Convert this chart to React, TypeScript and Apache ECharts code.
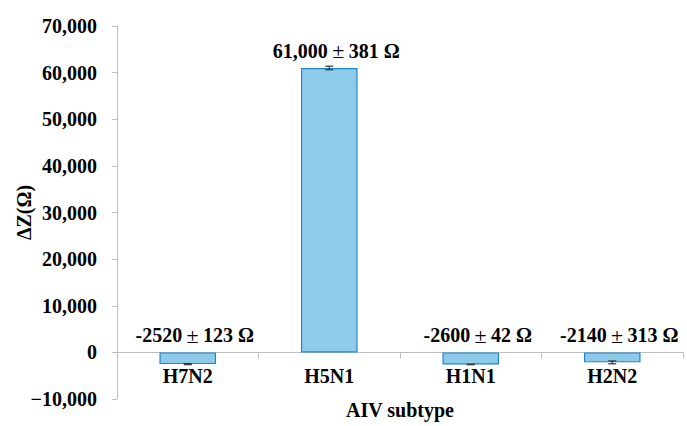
import React, { useEffect, useRef } from "react";
import * as echarts from "echarts";

const categories = ["H7N2", "H5N1", "H1N1", "H2N2"];
const values = [-2520, 61000, -2600, -2140];
const errors = [123, 381, 42, 313];
const labelMeans = ["-2520", "61,000", "-2600", "-2140"];
const labelErrors = ["123", "381", "42", "313"];
const yTicks = { min: -10000, max: 70000, interval: 10000 };

const FONT = "'Liberation Serif', 'Times New Roman', serif";

export default function App() {
  const ref = useRef<HTMLDivElement>(null);
  useEffect(() => {
    if (!ref.current) return;
    const chart = echarts.init(ref.current, undefined, { renderer: "svg" });
    const fmtNum = (v: number) => {
      const s = Math.abs(v).toLocaleString("en-US");
      return v < 0 ? "\u2212" + s : s;
    };
    const gridTop = 26;
    const gridBottom = 27;
    const plotH = 426 - gridTop - gridBottom;
    const zeroOffset = -((0 - yTicks.min) / (yTicks.max - yTicks.min)) * plotH;
    const txt = { fontFamily: FONT, fontWeight: "bold" as const, fontSize: 20, color: "#000" };
    chart.setOption({
      animation: false,
      backgroundColor: "#ffffff",
      grid: { left: 117, right: 4, top: gridTop, bottom: gridBottom, containLabel: false, outerBoundsMode: "none" },
      xAxis: {
        type: "category",
        data: categories,
        position: "bottom",
        offset: zeroOffset,
        name: "AIV subtype",
        nameLocation: "middle",
        nameGap: 48,
        nameMoveOverlap: false,
        nameTextStyle: txt,
        axisLine: { show: true, onZero: false, lineStyle: { color: "#bfbfbf", width: 1 } },
        axisTick: { show: true, length: 6, lineStyle: { color: "#bfbfbf" } },
        axisLabel: { ...txt, margin: 14 },
      },
      yAxis: {
        type: "value",
        min: yTicks.min,
        max: yTicks.max,
        interval: yTicks.interval,
        name: "ΔZ(Ω)",
        nameLocation: "middle",
        nameGap: 83,
        nameMoveOverlap: false,
        nameTextStyle: txt,
        axisLine: { show: true, lineStyle: { color: "#bfbfbf", width: 1 } },
        axisTick: { show: true, length: 5, lineStyle: { color: "#bfbfbf" } },
        splitLine: { show: false },
        axisLabel: { ...txt, margin: 20, formatter: (v: number) => fmtNum(v) },
      },
      series: [
        {
          type: "bar",
          data: values,
          barWidth: "40%",
          itemStyle: { color: "#8ecbeb", borderColor: "#1f86cc", borderWidth: 1.2 },
          label: {
            show: true,
            position: "top",
            distance: 6,
            offset: [7, 0],
            ...txt,
            rich: {
              t: txt,
              pm: { fontFamily: FONT, fontWeight: "normal", fontSize: 22, color: "#000" },
            },
            formatter: (p: any) =>
              `{t|${labelMeans[p.dataIndex]}}{pm|\u2009±\u2009}{t|${labelErrors[p.dataIndex]} Ω}`,
          },
        },
        {
          type: "custom",
          data: values.map((v, i) => [i, v, errors[i]]),
          z: 10,
          renderItem: (params: any, api: any) => {
            const i = api.value(0);
            const v = api.value(1);
            const e = api.value(2);
            const top = api.coord([i, v + e]);
            const bot = api.coord([i, v - e]);
            const hw = 4;
            const style = { stroke: "#333", lineWidth: 1.2 };
            return {
              type: "group",
              children: [
                { type: "line", shape: { x1: top[0], y1: top[1], x2: bot[0], y2: bot[1] }, style },
                { type: "line", shape: { x1: top[0] - hw, y1: top[1], x2: top[0] + hw, y2: top[1] }, style },
                { type: "line", shape: { x1: bot[0] - hw, y1: bot[1], x2: bot[0] + hw, y2: bot[1] }, style },
              ],
            };
          },
        },
      ],
    });
    return () => chart.dispose();
  }, []);
  return <div ref={ref} style={{ width: 687, height: 426, position: "absolute", left: 0, top: 0 }} />;
}
